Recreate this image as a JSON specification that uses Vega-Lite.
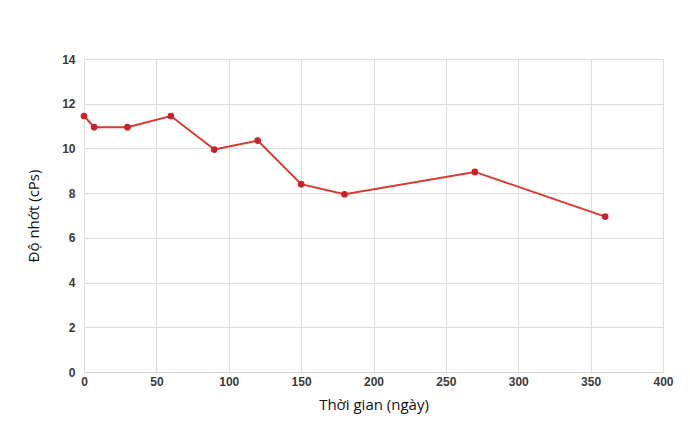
{
  "$schema": "https://vega.github.io/schema/vega-lite/v6.json",
  "width": 579,
  "height": 313,
  "autosize": {"type": "none"},
  "padding": {"left": 84, "top": 59, "right": 27, "bottom": 64},
  "background": "white",
  "config": {
    "view": {"stroke": null},
    "font": "Open Sans",
    "axis": {
      "gridColor": "#dcdcdc",
      "gridWidth": 1,
      "ticks": false,
      "labelFont": "Liberation Sans",
      "labelFontWeight": "bold",
      "labelFontSize": 12,
      "labelColor": "#3a3a3a",
      "labelFlush": false,
      "titleFont": "Open Sans",
      "titleFontWeight": "normal",
      "titleFontSize": 15,
      "titleColor": "#111111"
    }
  },
  "data": {
    "values": [
      {"ngay": 0, "donhot": 11.45},
      {"ngay": 7, "donhot": 10.95},
      {"ngay": 30, "donhot": 10.95},
      {"ngay": 60, "donhot": 11.45},
      {"ngay": 90, "donhot": 9.95},
      {"ngay": 120, "donhot": 10.35},
      {"ngay": 150, "donhot": 8.4},
      {"ngay": 180, "donhot": 7.95},
      {"ngay": 270, "donhot": 8.95},
      {"ngay": 360, "donhot": 6.95}
    ]
  },
  "encoding": {
    "x": {
      "field": "ngay",
      "type": "quantitative",
      "title": "Thời gian (ngày)",
      "scale": {"domain": [0, 400], "nice": false},
      "axis": {"values": [0, 50, 100, 150, 200, 250, 300, 350, 400], "domainColor": "#d0d0d0", "labelPadding": 4, "titlePadding": 10}
    },
    "y": {
      "field": "donhot",
      "type": "quantitative",
      "title": "Độ nhớt (cPs)",
      "scale": {"domain": [0, 14], "nice": false},
      "axis": {"values": [0, 2, 4, 6, 8, 10, 12, 14], "domain": false, "labelPadding": 9, "titlePadding": 20}
    }
  },
  "layer": [
    {"mark": {"type": "line", "color": "#d93a2f", "strokeWidth": 2}},
    {"mark": {"type": "point", "filled": true, "color": "#c8232a", "size": 45, "opacity": 1}}
  ]
}
